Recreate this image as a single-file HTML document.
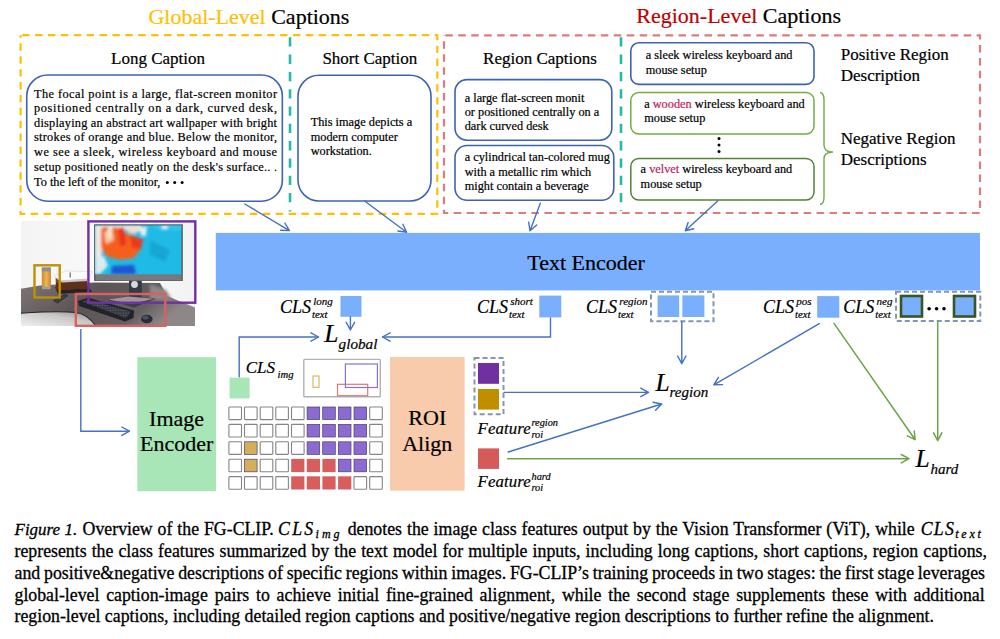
<!DOCTYPE html>
<html><head><meta charset="utf-8"><style>
html,body{margin:0;padding:0;background:#fff;}
body{width:1000px;height:639px;overflow:hidden;position:relative;}
svg{position:absolute;left:0;top:0;}
text{font-family:"Liberation Serif",serif;stroke:#000;stroke-width:0.2px;}
.cap text, text.cap{stroke:#000;stroke-width:0.3px;}
</style></head><body>
<svg width="1000" height="639" viewBox="0 0 1000 639">
<text x="148.4" y="24.2" font-size="22"><tspan fill="#FFC000" stroke="#FFC000">Global-Level</tspan> Captions</text>
<text x="636.3" y="23.3" font-size="22"><tspan fill="#C00000" stroke="#C00000">Region-Level</tspan> Captions</text>
<path d="M20.6,35.2 H437.3 V213.8 H20.6 Z" fill="none" stroke="#FFC000" stroke-width="2.2" stroke-dasharray="7.4 5.495" stroke-dashoffset="11.3"/>
<line x1="290" y1="37.3" x2="290" y2="211.5" stroke="#22BBA6" stroke-width="2.6" stroke-dasharray="9.3 8"/>
<path d="M444,35.3 H980 V213 H444 Z" fill="none" stroke="#E07B7B" stroke-width="2.2" stroke-dasharray="7.5 5.46" stroke-dashoffset="11.66"/>
<line x1="621" y1="37.3" x2="621" y2="211" stroke="#22BBA6" stroke-width="2.6" stroke-dasharray="9.3 8"/>
<text x="111" y="64.1" font-size="17" fill="#000" >Long Caption</text>
<text x="322.4" y="64" font-size="17" fill="#000" >Short Caption</text>
<text x="483.1" y="63.6" font-size="17" fill="#000" >Region Captions</text>
<rect x="26.75" y="75" width="255.6" height="126.2" rx="21" ry="21" fill="#fff" stroke="#3D63B6" stroke-width="1.6"/>
<text x="34" y="97.6" font-size="12.3" fill="#000" textLength="243" lengthAdjust="spacing">The focal point is a large, flat-screen monitor</text>
<text x="34" y="111.8" font-size="12.3" fill="#000" textLength="243" lengthAdjust="spacing">positioned centrally on a dark, curved desk,</text>
<text x="34" y="126.6" font-size="12.3" fill="#000" textLength="243" lengthAdjust="spacing">displaying an abstract art wallpaper with bright</text>
<text x="34" y="141.4" font-size="12.3" fill="#000" textLength="243" lengthAdjust="spacing">strokes of orange and blue. Below the monitor,</text>
<text x="34" y="156.2" font-size="12.3" fill="#000" textLength="243" lengthAdjust="spacing">we see a sleek, wireless keyboard and mouse</text>
<text x="34" y="170.8" font-size="12.3" fill="#000" textLength="243" lengthAdjust="spacing">setup positioned neatly on the desk&#39;s surface.. .</text>
<text x="34" y="185.5" font-size="12.3" fill="#000" >To the left of the monitor, </text>
<circle cx="167.3" cy="182.6" r="1.5" fill="#000"/>
<circle cx="174.70000000000002" cy="182.6" r="1.5" fill="#000"/>
<circle cx="182.10000000000002" cy="182.6" r="1.5" fill="#000"/>
<rect x="298" y="75.2" width="133" height="125.8" rx="21" ry="21" fill="#fff" stroke="#3D63B6" stroke-width="1.6"/>
<text x="310.7" y="125.6" font-size="12.3" fill="#000" >This image depicts a</text>
<text x="310.7" y="140.5" font-size="12.3" fill="#000" >modern computer</text>
<text x="310.7" y="155.2" font-size="12.3" fill="#000" >workstation.</text>
<rect x="455" y="79.6" width="156.8" height="60.6" rx="12" ry="12" fill="#fff" stroke="#3D63B6" stroke-width="1.6"/>
<text x="464.7" y="102.2" font-size="12.3" fill="#000" >a large flat-screen monit</text>
<text x="464.7" y="116.2" font-size="12.3" fill="#000" >or positioned centrally on a</text>
<text x="464.7" y="130.4" font-size="12.3" fill="#000" >dark curved desk</text>
<rect x="455" y="145.5" width="158.8" height="54.8" rx="12" ry="12" fill="#fff" stroke="#3D63B6" stroke-width="1.6"/>
<text x="464.7" y="160.8" font-size="12.3" fill="#000" >a cylindrical tan-colored mug</text>
<text x="464.7" y="175.6" font-size="12.3" fill="#000" >with a metallic rim which</text>
<text x="464.7" y="189.9" font-size="12.3" fill="#000" >might contain a beverage</text>
<rect x="630.8" y="42.8" width="183.2" height="41.6" rx="8" ry="8" fill="#fff" stroke="#3D63B6" stroke-width="1.6"/>
<text x="645.7" y="59.0" font-size="12.3" fill="#000" >a sleek wireless keyboard and</text>
<text x="645.7" y="73.9" font-size="12.3" fill="#000" >mouse setup</text>
<rect x="630.8" y="92.4" width="183.2" height="41.6" rx="8" ry="8" fill="#fff" stroke="#70AD47" stroke-width="1.5"/>
<text x="644.2" y="107.5" font-size="12.3">a <tspan fill="#C8205A" stroke="#C8205A">wooden</tspan> wireless keyboard and</text>
<text x="644.2" y="122.3" font-size="12.3" fill="#000" >mouse setup</text>
<rect x="630.8" y="158.4" width="183.2" height="41.6" rx="8" ry="8" fill="#fff" stroke="#548235" stroke-width="1.5"/>
<text x="640.6" y="173.4" font-size="12.3">a <tspan fill="#C8205A" stroke="#C8205A">velvet</tspan> wireless keyboard and</text>
<text x="640.6" y="187.7" font-size="12.3" fill="#000" >mouse setup</text>
<circle cx="719" cy="138.5" r="1.5" fill="#000"/>
<circle cx="719" cy="145" r="1.5" fill="#000"/>
<circle cx="719" cy="151.5" r="1.5" fill="#000"/>
<text x="840.7" y="59.7" font-size="17" fill="#000" >Positive Region</text>
<text x="840.7" y="80.5" font-size="17" fill="#000" >Description</text>
<text x="840.7" y="143.8" font-size="17" fill="#000" >Negative Region</text>
<text x="840.7" y="164.6" font-size="17" fill="#000" >Descriptions</text>
<path d="M820,92.5 Q824,93 824,100 L824,145 Q824,152 833,152 Q824,152 824,159 L824,197 Q824,204 820,204.5" stroke="#70AD47" stroke-width="1.4" fill="none"/>
<path d="M244.8,204.0 L289.4,230.6 M280.6,230.3 L289.4,230.6 L284.9,223.0" stroke="#4472C4" stroke-width="1.4" fill="none" stroke-linecap="round" stroke-linejoin="round"/>
<path d="M364.6,201.0 L406.6,232.2 M397.9,231.0 L406.6,232.2 L402.9,224.2" stroke="#4472C4" stroke-width="1.4" fill="none" stroke-linecap="round" stroke-linejoin="round"/>
<path d="M540.3,203.2 L530.0,230.8 M528.7,222.1 L530.0,230.8 L536.7,225.0" stroke="#4472C4" stroke-width="1.4" fill="none" stroke-linecap="round" stroke-linejoin="round"/>
<path d="M717.9,200.8 L685.3,230.8 M688.1,222.5 L685.3,230.8 L693.8,228.7" stroke="#4472C4" stroke-width="1.4" fill="none" stroke-linecap="round" stroke-linejoin="round"/>
<rect x="215.8" y="232.9" width="764.2" height="57.5" fill="#7AAFFD"/>
<text x="527.3" y="270.4" font-size="22" fill="#000" >Text Encoder</text>
<defs>
<linearGradient id="wall" x1="0" y1="0" x2="1" y2="0"><stop offset="0" stop-color="#f4f4f4"/><stop offset="0.6" stop-color="#fbfbfb"/><stop offset="1" stop-color="#f2f2f2"/></linearGradient>
<linearGradient id="desk" x1="0" y1="0" x2="1" y2="0.3"><stop offset="0" stop-color="#7d7576"/><stop offset="0.45" stop-color="#5c5556"/><stop offset="0.8" stop-color="#655e5e"/><stop offset="1" stop-color="#8d8788"/></linearGradient>
<linearGradient id="floor" x1="0" y1="1" x2="1" y2="0"><stop offset="0" stop-color="#f0f0f0"/><stop offset="0.6" stop-color="#c9c6c6"/><stop offset="1" stop-color="#8e8a8a"/></linearGradient>
<linearGradient id="mug" x1="0" y1="0" x2="1" y2="0"><stop offset="0" stop-color="#c88a2c"/><stop offset="0.5" stop-color="#efb54f"/><stop offset="1" stop-color="#c5862b"/></linearGradient>
<pattern id="keys" width="2.6" height="2.6" patternUnits="userSpaceOnUse"><rect width="2.6" height="2.6" fill="#2a2c33"/><rect x="0.4" y="0.4" width="1.7" height="1.6" fill="#5a6170"/></pattern>
<clipPath id="photo"><rect x="21" y="221" width="174" height="105"/></clipPath>
<clipPath id="scr"><rect x="95" y="225.5" width="86.4" height="49"/></clipPath>
<filter id="blur1"><feGaussianBlur stdDeviation="1.6"/></filter>
<filter id="blur05"><feGaussianBlur stdDeviation="0.6"/></filter>
</defs>
<g clip-path="url(#photo)">
<rect x="21" y="221" width="174" height="105" fill="url(#wall)"/>
<path d="M21,288.7 L40,285.5 L65,284 L95,282.5 L160,283 L167,296 L195,307.6 L195,326 L21,326 Z" fill="url(#desk)"/>
<path d="M150,284 L166,290 L172,300 L150,300 Z" fill="#8d8889" filter="url(#blur1)"/>
<path d="M21,313.2 C40,312 62,311.2 76,312.5 C84,313.5 90,318 96,326 L21,326 Z" fill="url(#floor)"/>
<path d="M21,313.2 C40,312 62,311.2 76,312.5 C84,313.5 90,318 96,326" stroke="#222" stroke-width="1.1" fill="none"/>
<path d="M55,287 L88,286 L92,292 L58,294 Z" fill="#2a2424" filter="url(#blur05)"/>
<path d="M55.6,278 L87,276.5 L87,288.5 L56,290 Z" fill="#7e4324"/>
<path d="M56,283 L87,281.5 L87,288.5 L56,290 Z" fill="#5e2f1b"/>
<path d="M54,276 L66,271 L92,271.5 L89,279 L60,281 Z" fill="#fafafa" stroke="#d6d6d6" stroke-width="0.6"/>
<path d="M60,280.5 L89,278.5 L87,281 L62,282.5 Z" fill="#c8c8cc"/>
<rect x="69.5" y="272.5" width="1.4" height="5" fill="#7a7a84"/>
<path d="M53.5,300.5 L64.5,294.6 L68,295.5 L57.5,303 Z" fill="#3a4150" stroke="#27292f" stroke-width="0.8"/>
<rect x="41.8" y="267.4" width="9.1" height="21.3" rx="1" fill="url(#mug)"/>
<rect x="41.8" y="267.4" width="9.1" height="4" fill="#8f8f92"/>
<rect x="42.3" y="286.7" width="8.1" height="2.5" fill="#a0a0a0"/>
<rect x="94.1" y="224.3" width="88.7" height="56.7" fill="#55565b"/>
<rect x="95.6" y="273.9" width="86" height="6.6" fill="#78797d"/>
<g clip-path="url(#scr)">
<rect x="95" y="225" width="87" height="49.5" fill="#1fbbe6"/>
<g filter="url(#blur1)">
<path d="M95,225 L142,225 L140,232 L128,230 L110,232 L103,240 L101,262 L95,270 Z" fill="#f4e9e0"/>
<path d="M101,228 L110,226 L118,228 L125,233 L134,236 L143,240 L140,250 L134,258 L120,260 L106,256 L101,248 Z" fill="#f4601e"/>
<path d="M104,232 L112,230 L114,240 L106,244 Z" fill="#f6c8a8"/>
<path d="M118,228 L124,227 L126,245 L120,246 Z" fill="#e8321a"/>
<path d="M130,236 L143,239 L141,249 L132,248 Z" fill="#ea3a1c"/>
<path d="M150,225 L182,225 L182,230 L160,230 Z" fill="#30c4ee"/>
<path d="M95,258 L104,256 L108,266 L100,274 L95,274 Z" fill="#d9ecf0"/>
<path d="M112,266 L134,265 L136,274 L111,274 Z" fill="#1d57d2"/>
<path d="M150,240 L170,250 L165,262 L150,255 Z" fill="#18a6d4"/>
<path d="M108,226 L113,226 L111,238 L107,237 Z" fill="#f6e2d0"/>
<path d="M127,226 L140,226 L136,234 L128,233 Z" fill="#f4ddd0"/>
<path d="M140,228 L147,226 L146,236 L141,236 Z" fill="#e9efef"/>
<path d="M162,225.5 L168,225.5 L167,229 L162,229 Z" fill="#eef6f8"/>
</g></g>
<rect x="129" y="281" width="12.8" height="16" fill="#343a4a"/>
<circle cx="134.5" cy="284.5" r="3.4" fill="#d9d9d9"/>
<path d="M107.5,299.8 L128,296 L156,298.5 L134,307.5 Z" fill="#3f3e42"/>
<path d="M108.5,299.6 L128,296.5 L154,298.8 L131,304 Z" fill="#9a989c"/>
<path d="M78,301 L88,297.8 L134,310.5 L133.5,318 L125,321.5 L79,306 Z" fill="#222329"/>
<path d="M82,301.5 L88,299.8 L131,311.5 L126,318 Z" fill="url(#keys)"/>
<ellipse cx="146.8" cy="319" rx="5.8" ry="4.3" fill="#272b38"/>
<ellipse cx="145.5" cy="317.5" rx="3" ry="2" fill="#4a5066"/>
</g>
<rect x="88.4" y="221.4" width="106.9" height="81.3" fill="none" stroke="#7030A0" stroke-width="2.4"/>
<rect x="34.5" y="265.3" width="25.2" height="32.2" fill="none" stroke="#BF9000" stroke-width="2.4"/>
<rect x="75.8" y="294" width="89.5" height="31.8" fill="none" stroke="#D9625F" stroke-width="2.4"/>
<path d="M80.8,329.0 L80.8,431.2 L129.5,431.2" stroke="#4472C4" stroke-width="1.4" fill="none"/>
<path d="M121.8,435.4 L129.5,431.2 L121.8,427.0" stroke="#4472C4" stroke-width="1.4" fill="none" stroke-linecap="round" stroke-linejoin="round"/>
<text x="280" y="313.1" font-size="18" font-style="italic">CLS</text>
<text x="313.3" y="305.1" font-size="11" font-style="italic">long</text>
<text x="312.1" y="318.20000000000005" font-size="10.7" font-style="italic">text</text>
<rect x="340.5" y="296" width="21" height="20.8" fill="#7AAFFD"/>
<text x="476.9" y="312.8" font-size="18" font-style="italic">CLS</text>
<text x="510.2" y="304.8" font-size="11" font-style="italic">short</text>
<text x="509.0" y="317.90000000000003" font-size="10.7" font-style="italic">text</text>
<rect x="539.3" y="295.6" width="22" height="21.8" fill="#7AAFFD"/>
<text x="586" y="312.8" font-size="18" font-style="italic">CLS</text>
<text x="619.3" y="304.8" font-size="11" font-style="italic">region</text>
<text x="618.1" y="317.90000000000003" font-size="10.7" font-style="italic">text</text>
<rect x="651" y="291.8" width="62.5" height="29.4" fill="none" stroke="#8497B0" stroke-width="2" stroke-dasharray="5 3"/>
<rect x="657.6" y="295.4" width="21.6" height="21.6" fill="#7AAFFD"/>
<rect x="682.3" y="295.4" width="22.1" height="21.6" fill="#7AAFFD"/>
<text x="762.9" y="312.8" font-size="18" font-style="italic">CLS</text>
<text x="796.1999999999999" y="304.8" font-size="11" font-style="italic">pos</text>
<text x="795.0" y="317.90000000000003" font-size="10.7" font-style="italic">text</text>
<rect x="817.2" y="296.1" width="22.1" height="21.6" fill="#7AAFFD"/>
<text x="843.2" y="312.8" font-size="18" font-style="italic">CLS</text>
<text x="876.5" y="304.8" font-size="11" font-style="italic">neg</text>
<text x="875.3000000000001" y="317.90000000000003" font-size="10.7" font-style="italic">text</text>
<rect x="896" y="291.8" width="84.3" height="29.2" fill="none" stroke="#8497B0" stroke-width="2" stroke-dasharray="5 3"/>
<rect x="901" y="296" width="21" height="20.5" fill="#7AAFFD" stroke="#375623" stroke-width="2.6"/>
<rect x="954" y="296" width="21" height="20.5" fill="#7AAFFD" stroke="#375623" stroke-width="2.6"/>
<circle cx="929.1" cy="308.8" r="1.8" fill="#000"/>
<circle cx="936.6" cy="308.8" r="1.8" fill="#000"/>
<circle cx="944" cy="308.8" r="1.8" fill="#000"/>
<text x="324.2" y="341.6" font-size="25.5" font-style="italic">L</text>
<text x="338.6" y="349" font-size="15.2" font-style="italic">global</text>
<path d="M350.4,316.8 L350.4,330.0 M346.2,322.3 L350.4,330.0 L354.6,322.3" stroke="#4472C4" stroke-width="1.4" fill="none" stroke-linecap="round" stroke-linejoin="round"/>
<path d="M239.2,377.6 L239.2,337.0 L318.6,337.0" stroke="#4472C4" stroke-width="1.4" fill="none"/>
<path d="M310.9,341.2 L318.6,337.0 L310.9,332.8" stroke="#4472C4" stroke-width="1.4" fill="none" stroke-linecap="round" stroke-linejoin="round"/>
<path d="M550.5,317.5 L550.5,337.0 L382.4,337.0" stroke="#4472C4" stroke-width="1.4" fill="none"/>
<path d="M390.1,332.8 L382.4,337.0 L390.1,341.2" stroke="#4472C4" stroke-width="1.4" fill="none" stroke-linecap="round" stroke-linejoin="round"/>
<rect x="137.4" y="357.2" width="78.6" height="134" fill="#A8E6B8"/>
<text x="176.6" y="425.6" font-size="22" text-anchor="middle">Image</text>
<text x="176.6" y="451" font-size="22" text-anchor="middle">Encoder</text>
<rect x="229.6" y="377.6" width="20" height="20.8" fill="#A8E6B8"/>
<text x="245.7" y="372.8" font-size="17" font-style="italic">CLS</text>
<text x="277.5" y="377.8" font-size="10.7" font-style="italic">img</text>
<rect x="303.8" y="359.4" width="76.5" height="37.4" rx="0.8" fill="#fff" stroke="#B3B3B3" stroke-width="1.4"/>
<rect x="313" y="376" width="6" height="11.3" fill="none" stroke="#D4A94A" stroke-width="1"/>
<rect x="337.5" y="384.3" width="30.2" height="11.4" fill="none" stroke="#E07878" stroke-width="1.2"/>
<rect x="345.4" y="364" width="32" height="23.5" fill="none" stroke="#8E6FD6" stroke-width="1.2"/>
<rect x="228.9" y="407.0" width="12.6" height="12.6" rx="0.8" fill="#fff" stroke="#858585" stroke-width="1.1"/>
<rect x="244.5" y="407.0" width="12.6" height="12.6" rx="0.8" fill="#fff" stroke="#858585" stroke-width="1.1"/>
<rect x="260.2" y="407.0" width="12.6" height="12.6" rx="0.8" fill="#fff" stroke="#858585" stroke-width="1.1"/>
<rect x="275.8" y="407.0" width="12.6" height="12.6" rx="0.8" fill="#fff" stroke="#858585" stroke-width="1.1"/>
<rect x="291.5" y="407.0" width="12.6" height="12.6" rx="0.8" fill="#fff" stroke="#858585" stroke-width="1.1"/>
<rect x="307.1" y="407.0" width="12.6" height="12.6" fill="#8A6BD0" stroke="#4a3f6b" stroke-width="0.7"/>
<rect x="322.7" y="407.0" width="12.6" height="12.6" fill="#8A6BD0" stroke="#4a3f6b" stroke-width="0.7"/>
<rect x="338.4" y="407.0" width="12.6" height="12.6" fill="#8A6BD0" stroke="#4a3f6b" stroke-width="0.7"/>
<rect x="354.0" y="407.0" width="12.6" height="12.6" fill="#8A6BD0" stroke="#4a3f6b" stroke-width="0.7"/>
<rect x="369.7" y="407.0" width="12.6" height="12.6" rx="0.8" fill="#fff" stroke="#858585" stroke-width="1.1"/>
<rect x="228.9" y="424.4" width="12.6" height="12.6" rx="0.8" fill="#fff" stroke="#858585" stroke-width="1.1"/>
<rect x="244.5" y="424.4" width="12.6" height="12.6" rx="0.8" fill="#fff" stroke="#858585" stroke-width="1.1"/>
<rect x="260.2" y="424.4" width="12.6" height="12.6" rx="0.8" fill="#fff" stroke="#858585" stroke-width="1.1"/>
<rect x="275.8" y="424.4" width="12.6" height="12.6" rx="0.8" fill="#fff" stroke="#858585" stroke-width="1.1"/>
<rect x="291.5" y="424.4" width="12.6" height="12.6" rx="0.8" fill="#fff" stroke="#858585" stroke-width="1.1"/>
<rect x="307.1" y="424.4" width="12.6" height="12.6" fill="#8A6BD0" stroke="#4a3f6b" stroke-width="0.7"/>
<rect x="322.7" y="424.4" width="12.6" height="12.6" fill="#8A6BD0" stroke="#4a3f6b" stroke-width="0.7"/>
<rect x="338.4" y="424.4" width="12.6" height="12.6" fill="#8A6BD0" stroke="#4a3f6b" stroke-width="0.7"/>
<rect x="354.0" y="424.4" width="12.6" height="12.6" fill="#8A6BD0" stroke="#4a3f6b" stroke-width="0.7"/>
<rect x="369.7" y="424.4" width="12.6" height="12.6" rx="0.8" fill="#fff" stroke="#858585" stroke-width="1.1"/>
<rect x="228.9" y="441.8" width="12.6" height="12.6" rx="0.8" fill="#fff" stroke="#858585" stroke-width="1.1"/>
<rect x="244.5" y="441.8" width="12.6" height="12.6" fill="#D4AE5A" stroke="#4a3f6b" stroke-width="0.7"/>
<rect x="260.2" y="441.8" width="12.6" height="12.6" rx="0.8" fill="#fff" stroke="#858585" stroke-width="1.1"/>
<rect x="275.8" y="441.8" width="12.6" height="12.6" rx="0.8" fill="#fff" stroke="#858585" stroke-width="1.1"/>
<rect x="291.5" y="441.8" width="12.6" height="12.6" rx="0.8" fill="#fff" stroke="#858585" stroke-width="1.1"/>
<rect x="307.1" y="441.8" width="12.6" height="12.6" fill="#8A6BD0" stroke="#4a3f6b" stroke-width="0.7"/>
<rect x="322.7" y="441.8" width="12.6" height="12.6" fill="#8A6BD0" stroke="#4a3f6b" stroke-width="0.7"/>
<rect x="338.4" y="441.8" width="12.6" height="12.6" fill="#8A6BD0" stroke="#4a3f6b" stroke-width="0.7"/>
<rect x="354.0" y="441.8" width="12.6" height="12.6" fill="#8A6BD0" stroke="#4a3f6b" stroke-width="0.7"/>
<rect x="369.7" y="441.8" width="12.6" height="12.6" rx="0.8" fill="#fff" stroke="#858585" stroke-width="1.1"/>
<rect x="228.9" y="459.2" width="12.6" height="12.6" rx="0.8" fill="#fff" stroke="#858585" stroke-width="1.1"/>
<rect x="244.5" y="459.2" width="12.6" height="12.6" fill="#D4AE5A" stroke="#4a3f6b" stroke-width="0.7"/>
<rect x="260.2" y="459.2" width="12.6" height="12.6" rx="0.8" fill="#fff" stroke="#858585" stroke-width="1.1"/>
<rect x="275.8" y="459.2" width="12.6" height="12.6" rx="0.8" fill="#fff" stroke="#858585" stroke-width="1.1"/>
<rect x="291.2" y="458.9" width="13.2" height="13.2" fill="#D85E5E"/>
<rect x="306.8" y="458.9" width="13.2" height="13.2" fill="#D85E5E"/>
<rect x="322.4" y="458.9" width="13.2" height="13.2" fill="#D85E5E"/>
<rect x="338.4" y="459.2" width="12.6" height="12.6" fill="#8A6BD0" stroke="#4a3f6b" stroke-width="0.7"/>
<rect x="354.0" y="459.2" width="12.6" height="12.6" fill="#8A6BD0" stroke="#4a3f6b" stroke-width="0.7"/>
<rect x="369.7" y="459.2" width="12.6" height="12.6" rx="0.8" fill="#fff" stroke="#858585" stroke-width="1.1"/>
<rect x="228.9" y="476.6" width="12.6" height="12.6" rx="0.8" fill="#fff" stroke="#858585" stroke-width="1.1"/>
<rect x="244.5" y="476.6" width="12.6" height="12.6" rx="0.8" fill="#fff" stroke="#858585" stroke-width="1.1"/>
<rect x="260.2" y="476.6" width="12.6" height="12.6" rx="0.8" fill="#fff" stroke="#858585" stroke-width="1.1"/>
<rect x="275.8" y="476.6" width="12.6" height="12.6" rx="0.8" fill="#fff" stroke="#858585" stroke-width="1.1"/>
<rect x="291.2" y="476.3" width="13.2" height="13.2" fill="#D85E5E"/>
<rect x="306.8" y="476.3" width="13.2" height="13.2" fill="#D85E5E"/>
<rect x="322.4" y="476.3" width="13.2" height="13.2" fill="#D85E5E"/>
<rect x="338.1" y="476.3" width="13.2" height="13.2" fill="#D85E5E"/>
<rect x="354.0" y="476.6" width="12.6" height="12.6" rx="0.8" fill="#fff" stroke="#858585" stroke-width="1.1"/>
<rect x="369.7" y="476.6" width="12.6" height="12.6" rx="0.8" fill="#fff" stroke="#858585" stroke-width="1.1"/>
<rect x="390" y="357" width="74.6" height="133.7" fill="#F8CBAD"/>
<text x="427.3" y="425" font-size="22" text-anchor="middle">ROI</text>
<text x="427.3" y="451.4" font-size="22" text-anchor="middle">Align</text>
<rect x="474.5" y="358" width="29" height="56.2" fill="none" stroke="#8497B0" stroke-width="2" stroke-dasharray="5 3"/>
<rect x="478" y="363" width="21" height="20.8" fill="#7030A0"/>
<rect x="478" y="389" width="21" height="20.6" fill="#BF8F00"/>
<rect x="478" y="448.4" width="21" height="20.5" fill="#D65A5A"/>
<text x="477.6" y="433.5" font-size="16.8" font-style="italic" style="letter-spacing:0.1px">Feature</text>
<text x="531.5" y="425.8" font-size="10.3" font-style="italic">region</text>
<text x="531.5" y="437.8" font-size="10.3" font-style="italic">roi</text>
<text x="477.6" y="486.8" font-size="16.8" font-style="italic" style="letter-spacing:0.1px">Feature</text>
<text x="531.5" y="479.8" font-size="10.3" font-style="italic">hard</text>
<text x="531.5" y="491.2" font-size="10.3" font-style="italic">roi</text>
<text x="655.5" y="391.2" font-size="25.5" font-style="italic">L</text>
<text x="669.6" y="396.6" font-size="15" font-style="italic">region</text>
<path d="M681.8,321.5 L681.8,363.7 M677.6,356.0 L681.8,363.7 L686.0,356.0" stroke="#4472C4" stroke-width="1.4" fill="none" stroke-linecap="round" stroke-linejoin="round"/>
<path d="M504.0,392.4 L648.5,392.4 M640.8,396.6 L648.5,392.4 L640.8,388.2" stroke="#4472C4" stroke-width="1.4" fill="none" stroke-linecap="round" stroke-linejoin="round"/>
<path d="M508.2,452.0 L661.7,404.0 M655.6,410.3 L661.7,404.0 L653.1,402.3" stroke="#4472C4" stroke-width="1.4" fill="none" stroke-linecap="round" stroke-linejoin="round"/>
<path d="M819.3,323.7 L713.8,384.8 M718.4,377.3 L713.8,384.8 L722.6,384.6" stroke="#4472C4" stroke-width="1.4" fill="none" stroke-linecap="round" stroke-linejoin="round"/>
<text x="915.4" y="466.8" font-size="25.5" font-style="italic">L</text>
<text x="930.5" y="474.2" font-size="15" font-style="italic">hard</text>
<path d="M507.7,458.7 L909.0,458.7 M901.3,462.9 L909.0,458.7 L901.3,454.5" stroke="#6BA548" stroke-width="1.5" fill="none" stroke-linecap="round" stroke-linejoin="round"/>
<path d="M834.0,323.4 L915.2,439.7 M907.3,435.8 L915.2,439.7 L914.2,431.0" stroke="#6BA548" stroke-width="1.5" fill="none" stroke-linecap="round" stroke-linejoin="round"/>
<path d="M937.7,321.5 L937.7,440.6 M933.5,432.9 L937.7,440.6 L941.9,432.9" stroke="#6BA548" stroke-width="1.5" fill="none" stroke-linecap="round" stroke-linejoin="round"/>
<g class="cap">
<text x="14.5" y="535" font-size="17" font-style="italic">Figure 1.</text>
<text x="82.6" y="535" font-size="17.8" style="word-spacing:0.47px">Overview of the FG-CLIP.</text>
<text x="278" y="535" font-size="17.8" font-style="italic" style="letter-spacing:2.3px">CLS</text>
<text x="315.6" y="538" font-size="12" font-style="italic" style="letter-spacing:3px">img</text>
<text x="347.7" y="535" font-size="17.8" style="word-spacing:0.5px">denotes the image class features output by the Vision Transformer (ViT), while</text>
<text x="920.7" y="535" font-size="17.8" font-style="italic" style="letter-spacing:1.3px">CLS</text>
<text x="955.2" y="538" font-size="12" font-style="italic" style="letter-spacing:2.8px">text</text>
<text x="14.5" y="557.0" font-size="17.8" style="word-spacing:0.64px">represents the class features summarized by the text model for multiple inputs, including long captions, short captions, region captions,</text>
<text x="14.5" y="578.75" font-size="17.8" style="word-spacing:-0.6px">and positive&amp;negative descriptions of specific regions within images. FG-CLIP’s training proceeds in two stages: the first stage leverages</text>
<text x="14.5" y="600.5" font-size="17.8" style="word-spacing:2.33px">global-level caption-image pairs to achieve initial fine-grained alignment, while the second stage supplements these with additional</text>
<text x="14.5" y="622.0" font-size="17.8" style="word-spacing:0px">region-level captions, including detailed region captions and positive/negative region descriptions to further refine the alignment.</text>
</g>
</svg>
</body></html>
